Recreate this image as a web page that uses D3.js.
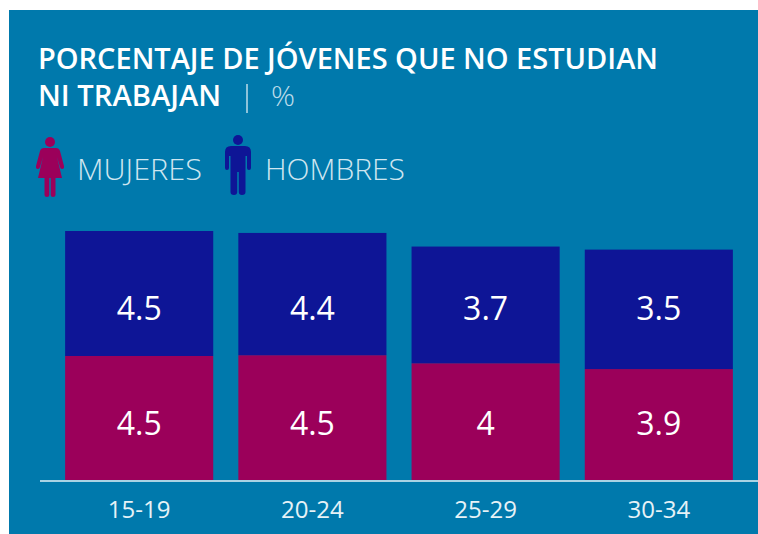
<!DOCTYPE html>
<html>
<head>
<meta charset="utf-8">
<script src="https://cdn.jsdelivr.net/npm/d3@7"></script>
<style>
  html, body { margin: 0; padding: 0; background: #fff; }
  svg { display: block; }
  text { font-family: "Open Sans", sans-serif; }
</style>
</head>
<body>
<div id="chart"></div>
<script>
const categories = ['15-19', '20-24', '25-29', '30-34'];

// printed labels
const mujeres = ['4.5', '4.5', '4', '3.9'];
const hombres = ['4.5', '4.4', '3.7', '3.5'];

// the bars in the picture are not quite proportional to their labels,
// so these are the lengths, in the same units
const mujeresBar = [4.5, 4.53, 4.24, 4.03];
const hombresBar = [4.5, 4.4, 4.2, 4.3];

const colors = { bg: '#0079ac', mujeres: '#9b005a', hombres: '#0e1596' };

const width = 758;
const height = 534;

const svg = d3.select('#chart').append('svg')
  .attr('width', width)
  .attr('height', height);

svg.append('rect')
  .attr('x', 9).attr('y', 10)
  .attr('width', width - 9).attr('height', height - 10)
  .attr('fill', colors.bg);

// title, squeezed because the original face is narrower
const title = svg.append('g').attr('fill', '#fff').style('font-weight', 600);
title.append('text').attr('x', 38).attr('y', 69)
  .attr('font-size', 29)
  .attr('textLength', 620).attr('lengthAdjust', 'spacingAndGlyphs')
  .text('PORCENTAJE DE JÓVENES QUE NO ESTUDIAN');
title.append('text').attr('x', 38).attr('y', 106)
  .attr('font-size', 29)
  .attr('textLength', 183).attr('lengthAdjust', 'spacingAndGlyphs')
  .text('NI TRABAJAN');
svg.append('line')
  .attr('x1', 247).attr('x2', 247).attr('y1', 84).attr('y2', 113)
  .attr('stroke', '#bcdcea').attr('stroke-width', 1.5);
svg.append('text').attr('x', 271).attr('y', 106)
  .attr('font-size', 28).attr('fill', '#bcdcea')
  .attr('textLength', 24).attr('lengthAdjust', 'spacingAndGlyphs')
  .style('font-weight', 300).text('%');

// legend
function woman(g) {
  g.append('circle').attr('cx', 50).attr('cy', 142).attr('r', 5).attr('fill', colors.mujeres);
  g.append('path').attr('fill', colors.mujeres)
    .attr('d', 'M44 148H56Q59 148 60 151L64 166Q64.500 169 62 169Q60.500 169 60 167L57 157L62 178H55.500V195Q55.500 197 53 197Q50.700 197 50.700 195V178H49.300V195Q49.300 197 47 197Q44.500 197 44.500 195V178H38L43 157L40 167Q39.500 169 38 169Q35.500 169 36 166L40 151Q41 148 44 148Z');
}
function man(g) {
  g.append('circle').attr('cx', 238).attr('cy', 140).attr('r', 5).attr('fill', colors.hombres);
  g.append('path').attr('fill', colors.hombres)
    .attr('d', 'M231 146H245Q251 146 251 152V168Q251 170 249 170Q247 170 247 168V156H245.500V192Q245.500 195 242 195Q238.800 195 238.800 192V172H237.200V192Q237.200 195 234 195Q230.500 195 230.500 192V156H229V168Q229 170 227 170Q225 170 225 168V152Q225 146 231 146Z');
}
svg.append('g').call(woman);
svg.append('g').call(man);
svg.append('text').attr('x', 77).attr('y', 180).attr('font-size', 29)
  .attr('fill', '#cfe6f0').attr('textLength', 125).attr('lengthAdjust', 'spacingAndGlyphs')
  .style('font-weight', 300).text('MUJERES');
svg.append('text').attr('x', 265).attr('y', 180).attr('font-size', 29)
  .attr('fill', '#cfe6f0').attr('textLength', 140).attr('lengthAdjust', 'spacingAndGlyphs')
  .style('font-weight', 300).text('HOMBRES');

// scales
const x = d3.scaleBand()
  .domain(categories)
  .range([53, 745])
  .paddingInner(0.145)
  .paddingOuter(0.07);

const y = d3.scaleLinear().domain([0, 9]).range([481, 231]);

// value labels sit in two fixed rows, not at the middle of each bar
const labelRowMujeres = 1.66;
const labelRowHombres = 5.8;

const rows = categories.map((c, i) => ({
  cat: c,
  m: mujeresBar[i],
  h: hombresBar[i],
  mLabel: mujeres[i],
  hLabel: hombres[i]
}));

const bars = svg.append('g').selectAll('g').data(rows).join('g');

bars.append('rect')
  .attr('x', d => x(d.cat))
  .attr('width', x.bandwidth())
  .attr('y', d => y(d.m))
  .attr('height', d => y(0) - y(d.m))
  .attr('fill', colors.mujeres);

bars.append('rect')
  .attr('x', d => x(d.cat))
  .attr('width', x.bandwidth())
  .attr('y', d => y(d.m + d.h))
  .attr('height', d => y(d.m) - y(d.m + d.h))
  .attr('fill', colors.hombres);

bars.append('text')
  .attr('x', d => x(d.cat) + x.bandwidth() / 2)
  .attr('y', y(labelRowMujeres))
  .attr('text-anchor', 'middle')
  .attr('font-size', 32)
  .attr('fill', '#fff')
  .text(d => d.mLabel);

bars.append('text')
  .attr('x', d => x(d.cat) + x.bandwidth() / 2)
  .attr('y', y(labelRowHombres))
  .attr('text-anchor', 'middle')
  .attr('font-size', 32)
  .attr('fill', '#fff')
  .text(d => d.hLabel);

// axis
const axis = svg.append('g')
  .attr('transform', `translate(0, ${y(0)})`)
  .call(d3.axisBottom(x).tickSize(0).tickPadding(20));

axis.select('.domain').remove();
axis.selectAll('text')
  .attr('font-size', 24)
  .attr('fill', '#e6f2f7')
  .style('font-family', '"Open Sans", sans-serif');

svg.append('line')
  .attr('x1', 40).attr('x2', width)
  .attr('y1', y(0)).attr('y2', y(0))
  .attr('stroke', '#a9d3e4')
  .attr('stroke-width', 2);
</script>
</body>
</html>
